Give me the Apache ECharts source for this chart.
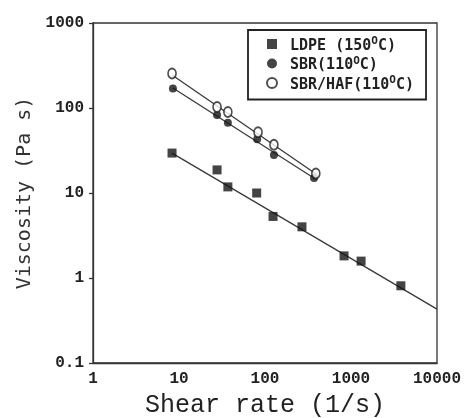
<!DOCTYPE html>
<html>
<head>
<meta charset="utf-8">
<script src="https://cdn.jsdelivr.net/npm/echarts@6/dist/echarts.min.js"></script>
<style>
  html, body { margin: 0; padding: 0; background: #fff; }
  #chart { width: 466px; height: 418px; }
</style>
</head>
<body>
<div id="chart"></div>
<script>
// shear rate (1/s) vs viscosity (Pa s)
const ldpeRate = [8.3, 27.7, 37, 80, 124, 269, 830, 1310, 3800];
const ldpeVisc = [29.5, 18.7, 11.8, 10, 5.3, 4.0, 1.82, 1.58, 0.81];
const sbrRate = [8.5, 27.7, 37, 81, 127, 372];
const sbrVisc = [170, 83, 67, 43, 28, 15];
const hafRate = [8.3, 27.7, 37, 83, 127, 390];
const hafVisc = [255, 103, 90, 52, 37, 17];

// fitted lines (end points)
const ldpeFitRate = [8.3, 10000];
const ldpeFitVisc = [29.5, 0.43];
const sbrFitRate = [8.5, 390];
const sbrFitVisc = [172, 14.5];
const hafFitRate = [8.3, 400];
const hafFitVisc = [245, 16.5];

const zip = (a, b) => a.map((v, i) => [v, b[i]]);

const chart = echarts.init(document.getElementById("chart"));

const lineStyle = { color: "#3a3a3a", width: 1.3 };
const fit = (r, v) => ({
  type: "line",
  data: zip(r, v),
  symbol: "none",
  lineStyle: lineStyle,
  silent: true,
  z: 1,
});

chart.setOption({
  animation: false,
  grid: {
    left: 93,
    right: 29,
    top: 23,
    bottom: 55,
    outerBoundsMode: "none",
    show: true,
    borderColor: "#333",
    borderWidth: 1.3,
  },
  legend: {
    left: 248,
    top: 30,
    orient: "vertical",
    borderColor: "#222",
    borderWidth: 1.8,
    padding: [6, 12, 7, 18],
    itemWidth: 10,
    itemHeight: 10,
    itemGap: 2,
    data: ["LDPE", "SBR", "SBR/HAF"],
    formatter: function (name) {
      if (name === "LDPE") return "{t|LDPE (150}{s|O}{t|C)}";
      if (name === "SBR") return "{t|SBR(110}{s|O}{t|C)}";
      return "{t|SBR/HAF(110}{s|O}{t|C)}";
    },
    textStyle: {
      padding: [0, 0, 0, 8],
      rich: {
        t: {
          fontFamily: "DejaVu Sans Mono",
          fontWeight: "bold",
          fontSize: 15,
          color: "#222",
          padding: [4, 0, 0, 0],
        },
        s: {
          fontFamily: "DejaVu Sans Mono",
          fontWeight: "bold",
          fontSize: 11,
          color: "#222",
          padding: [0, 0, 5, 0],
        },
      },
    },
  },
  xAxis: {
    type: "log",
    logBase: 10,
    min: 1,
    max: 10000,
    name: "Shear rate (1/s)",
    nameLocation: "middle",
    nameGap: 30,
    nameTextStyle: {
      fontFamily: "Liberation Mono",
      fontSize: 25,
      color: "#222",
    },
    axisLine: { lineStyle: { color: "#333", width: 1.3 } },
    axisTick: { show: false },
    splitLine: { show: false },
    axisLabel: {
      margin: 8,
      fontFamily: "Liberation Mono",
      fontWeight: "bold",
      fontSize: 16,
      color: "#222",
      formatter: (v) => String(v),
    },
  },
  yAxis: {
    type: "log",
    logBase: 10,
    min: 0.1,
    max: 1000,
    name: "Viscosity (Pa s)",
    nameLocation: "middle",
    nameGap: 58,
    nameRotate: 90,
    nameTextStyle: {
      fontFamily: "DejaVu Sans Mono",
      fontSize: 20,
      color: "#333",
    },
    axisLine: { lineStyle: { color: "#333", width: 1.3 } },
    axisTick: { show: true, length: 4, lineStyle: { color: "#333", width: 1.3 } },
    splitLine: { show: false },
    axisLabel: {
      margin: 9,
      fontFamily: "Liberation Mono",
      fontWeight: "bold",
      fontSize: 16,
      color: "#222",
      formatter: (v) => String(+v.toPrecision(3)),
    },
  },
  series: [
    fit(ldpeFitRate, ldpeFitVisc),
    fit(sbrFitRate, sbrFitVisc),
    fit(hafFitRate, hafFitVisc),
    {
      name: "LDPE",
      type: "scatter",
      symbol: "rect",
      symbolSize: 9,
      itemStyle: { color: "#151515" },
      data: zip(ldpeRate, ldpeVisc),
      z: 3,
    },
    {
      name: "SBR",
      type: "scatter",
      symbol: "circle",
      symbolSize: 8,
      itemStyle: { color: "#151515" },
      data: zip(sbrRate, sbrVisc),
      z: 3,
    },
    {
      name: "SBR/HAF",
      type: "scatter",
      symbol: "circle",
      symbolSize: [8, 10],
      itemStyle: { color: "#fff", borderColor: "#222", borderWidth: 1.8 },
      data: zip(hafRate, hafVisc),
      z: 4,
    },
  ],
});
</script>
</body>
</html>
